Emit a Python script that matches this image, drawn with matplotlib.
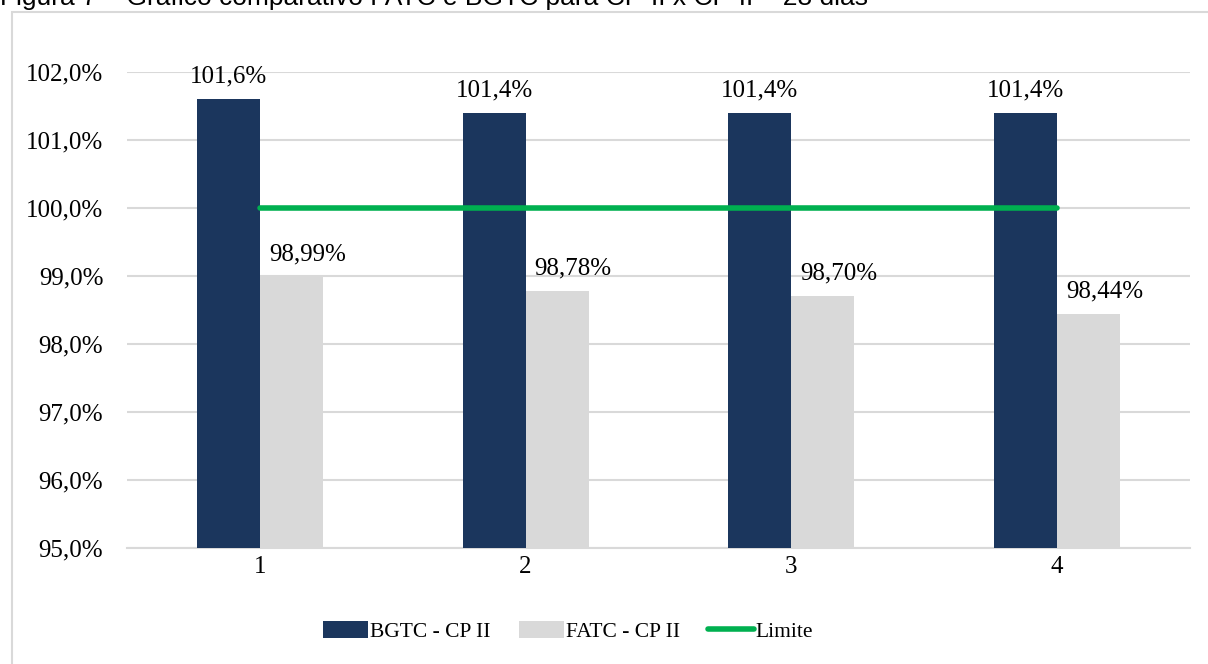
import matplotlib.pyplot as plt
import numpy as np
from matplotlib.patches import Rectangle

# dados do ensaio
categorias = ['1', '2', '3', '4']
bgtc = [101.6, 101.4, 101.4, 101.4]
fatc = [98.99, 98.78, 98.70, 98.44]
rot_bgtc = ['101,6%', '101,4%', '101,4%', '101,4%']
rot_fatc = ['98,99%', '98,78%', '98,70%', '98,44%']
limite = [100.0, 100.0, 100.0, 100.0]
ticks_y = [95, 96, 97, 98, 99, 100, 101, 102]

plt.rcParams['font.family'] = ['Liberation Serif', 'DejaVu Serif']

fig = plt.figure(figsize=(12.08, 6.64), dpi=100)
ax = fig.add_axes([0.1051, 0.1747, 0.8800, 0.7169])

x = np.arange(len(categorias))
w = 0.237
azul = '#1b365d'
cinza = '#d9d9d9'
verde = '#00b050'

b1 = ax.bar(x - w / 2, bgtc, w, color=azul, label='BGTC - CP II', zorder=3)
b2 = ax.bar(x + w / 2, fatc, w, color=cinza, label='FATC - CP II', zorder=3)
l1, = ax.plot(x, limite, color=verde, lw=4, solid_capstyle='round', label='Limite', zorder=4)

for i in range(len(x)):
    ax.text(x[i] - w / 2, bgtc[i] + 0.17, rot_bgtc[i], ha='center', va='bottom', fontsize=18)
    ax.text(x[i] + w / 2 + 0.06, fatc[i] + 0.17, rot_fatc[i], ha='center', va='bottom', fontsize=18)

ax.set_xlim(-0.5, 3.5)
ax.set_ylim(95, 102)
ax.set_xticks(x)
ax.set_xticklabels(categorias, fontsize=18)
ax.set_yticks(ticks_y)
ax.set_yticklabels([f'{v:.1f}%'.replace('.', ',') for v in ticks_y], fontsize=18)
ax.tick_params(length=0, pad=6)
ax.tick_params(axis='y', pad=17)
ax.grid(axis='y', color='#d9d9d9', lw=1.5, zorder=0)
for s in ['top', 'right', 'left']:
    ax.spines[s].set_visible(False)
ax.spines['bottom'].set_color('#d9d9d9')
ax.spines['bottom'].set_linewidth(1.5)

ax.legend([b1, b2, l1], ['BGTC - CP II', 'FATC - CP II', 'Limite'],
          loc='upper center', bbox_to_anchor=(0.415, -0.113), ncol=3, frameon=False,
          fontsize=15.5, handlelength=2.1, handleheight=0.8, handletextpad=0.1,
          columnspacing=1.3)

# moldura do gráfico
fig.patches.append(Rectangle((12 / 1208, -0.01), 1.2, 1 - 12 / 664 + 0.01,
                             transform=fig.transFigure, fill=False,
                             edgecolor='#d9d9d9', lw=1.5))

fig.text(0.0, 1 - 5 / 664, 'Figura 7 – Gráfico comparativo FATC e BGTC para CP-II x CP-II – 28 dias',
         family='Liberation Sans', fontsize=19, va='baseline', ha='left')

fig.savefig('out.png', dpi=100)
